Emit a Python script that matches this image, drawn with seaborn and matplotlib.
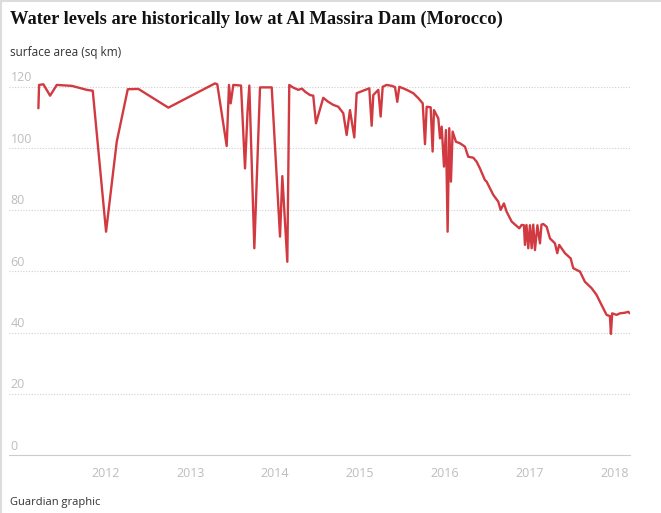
import numpy as np
import pandas as pd
import matplotlib
matplotlib.use("Agg")
import matplotlib.pyplot as plt
from matplotlib.lines import Line2D
import seaborn as sns

# Surface area of Al Massira Dam (decimal year, sq km)
years = [
    2011.208, 2011.216, 2011.267, 2011.346, 2011.425, 2011.601, 2011.778, 2011.849,
    2012.006, 2012.132, 2012.262, 2012.387, 2012.741, 2013.291, 2013.318, 2013.429,
    2013.456, 2013.476, 2013.507, 2013.598, 2013.645, 2013.675, 2013.696, 2013.755,
    2013.822, 2013.960, 2014.058, 2014.085, 2014.144, 2014.167, 2014.215, 2014.274,
    2014.317, 2014.353, 2014.412, 2014.450, 2014.482, 2014.568, 2014.627, 2014.686,
    2014.745, 2014.804, 2014.844, 2014.883, 2014.934, 2014.962, 2015.111, 2015.139,
    2015.158, 2015.217, 2015.245, 2015.269, 2015.316, 2015.375, 2015.414, 2015.441,
    2015.465, 2015.552, 2015.630, 2015.689, 2015.741, 2015.768, 2015.788, 2015.835,
    2015.858, 2015.874, 2015.925, 2015.945, 2015.965, 2015.992, 2016.015, 2016.035,
    2016.054, 2016.074, 2016.094, 2016.133, 2016.180, 2016.239, 2016.278, 2016.337,
    2016.377, 2016.416, 2016.475, 2016.495, 2016.573, 2016.632, 2016.660, 2016.699,
    2016.731, 2016.790, 2016.880, 2016.908, 2016.935, 2016.947, 2016.965, 2016.986,
    2017.006, 2017.026, 2017.045, 2017.065, 2017.094, 2017.124, 2017.142, 2017.163,
    2017.203, 2017.242, 2017.301, 2017.328, 2017.351, 2017.419, 2017.486, 2017.517,
    2017.596, 2017.654, 2017.733, 2017.792, 2017.851, 2017.910, 2017.949, 2017.961,
    2017.976, 2018.028, 2018.067, 2018.126, 2018.165, 2018.185,
]
area = [
    113.1, 120.7, 120.9, 117.2, 120.7, 120.4, 119.1, 118.8,
    72.9, 102.2, 119.3, 119.4, 113.3, 121.2, 120.9, 100.8,
    120.7, 114.7, 120.7, 120.5, 93.5, 112.0, 120.5, 67.5,
    119.9, 119.9, 71.3, 91.0, 63.1, 120.7, 119.8, 119.1,
    119.5, 118.5, 117.4, 117.2, 108.2, 116.5, 115.2, 114.2,
    113.6, 111.5, 104.4, 112.5, 103.6, 118.0, 119.6, 107.4,
    117.4, 119.1, 110.4, 120.1, 120.7, 120.4, 120.0, 115.2,
    120.1, 119.1, 118.0, 116.4, 114.7, 101.4, 113.6, 113.4,
    99.0, 112.5, 109.8, 103.3, 107.1, 94.1, 106.0, 72.9,
    106.6, 89.2, 105.5, 102.2, 101.7, 100.6, 97.3, 97.0,
    95.7, 93.5, 89.7, 89.2, 84.9, 82.7, 80.0, 82.1,
    79.4, 76.2, 74.0, 75.1, 75.0, 68.6, 75.1, 67.5,
    75.0, 67.5, 75.2, 66.9, 75.0, 69.1, 75.2, 75.4,
    74.5, 70.7, 69.1, 65.9, 68.6, 65.9, 64.2, 61.0,
    59.9, 56.6, 54.5, 52.3, 49.0, 45.8, 45.4, 39.6,
    46.3, 45.8, 46.3, 46.5, 46.8, 46.3,
]

tick_years = [2012, 2013, 2014, 2015, 2016, 2017, 2018]
y_ticks = [0, 20, 40, 60, 80, 100, 120]

df = pd.DataFrame({"year": years, "area": area})

sns.set_style("white")
plt.rcParams["font.family"] = ["Open Sans", "DejaVu Sans"]

fig = plt.figure(figsize=(6.61, 5.13), dpi=100)
ax = fig.add_axes([0.0141, 0.1121, 0.9395, 0.7421])

sns.lineplot(data=df, x="year", y="area", ax=ax, color="#d13a40",
             linewidth=1.7, estimator=None)

ax.set_xlim(2010.865, 2018.19)
ax.set_ylim(0, 124)

# dotted gridlines with labels sitting above them on the left
for v in y_ticks[1:]:
    ax.axhline(v, color="#cfcfcf", linestyle=(0, (1, 1.5)), linewidth=0.8, zorder=0)
for v in y_ticks:
    ax.annotate(str(v), xy=(0, v), xycoords=ax.get_yaxis_transform(),
                xytext=(1, 2), textcoords="offset points",
                ha="left", va="bottom", fontsize=9, color="#bdbdbd")

ax.set_yticks([])
ax.set_xticks(tick_years)
ax.set_xticklabels([str(y) for y in tick_years], fontsize=9, color="#bdbdbd")
ax.tick_params(axis="x", length=3, width=0.8, color="#cccccc", pad=5)
ax.set_xlabel("")
ax.set_ylabel("")

for s in ["top", "right", "left"]:
    ax.spines[s].set_visible(False)
ax.spines["bottom"].set_color("#cccccc")
ax.spines["bottom"].set_linewidth(0.8)

# texts
fig.text(0.0151, 0.962, "Water levels are historically low at Al Massira Dam (Morocco)",
         fontsize=13.3, fontweight="bold", family="Liberation Serif",
         color="#121212", va="center")
fig.text(0.0151, 0.897, "surface area (sq km)", fontsize=8.5, color="#333333", va="center")
fig.text(0.0151, 0.021, "Guardian graphic", fontsize=8, color="#333333", va="center")

# page borders
fig.add_artist(Line2D([0, 1], [0.999, 0.999], transform=fig.transFigure,
                      color="#dcdcdc", linewidth=1.5))
fig.add_artist(Line2D([0.001, 0.001], [0, 1], transform=fig.transFigure,
                      color="#dcdcdc", linewidth=1.5))

fig.savefig("out.png", dpi=100)
